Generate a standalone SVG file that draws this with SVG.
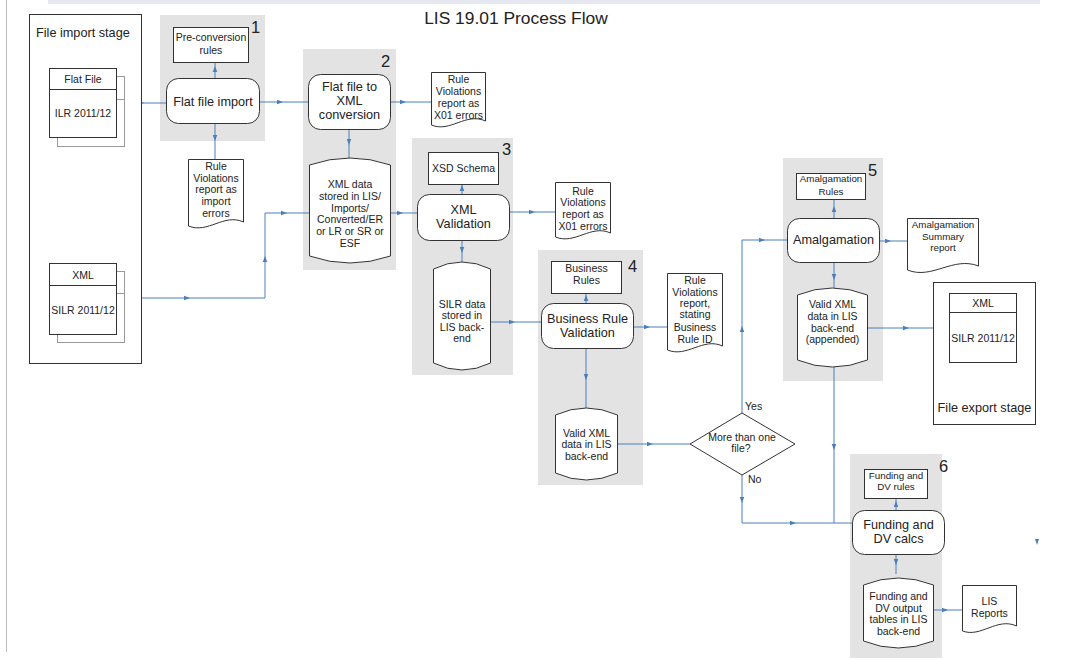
<svg xmlns="http://www.w3.org/2000/svg" width="1075" height="660" viewBox="0 0 1075 660">
<style>
.grp{fill:#e3e3e3}
.box{fill:#fff;stroke:#333;stroke-width:1}
.back{fill:#fff;stroke:#999;stroke-width:1}
.t{font-family:"Liberation Sans",Arial,sans-serif;fill:#222;text-anchor:middle}
.s{font-size:10.5px}
.xs{font-size:9.8px}
.m{font-size:12.7px}
.num{font-family:"Liberation Sans",Arial,sans-serif;fill:#222;font-size:16.5px}
.c{fill:none;stroke:#4a7ebb;stroke-width:1;marker-mid:url(#a)}
</style>
<defs>
<marker id="a" viewBox="0 0 8 8" refX="4" refY="4" markerWidth="6" markerHeight="6" markerUnits="userSpaceOnUse" orient="auto"><path d="M0,1 L8,4 L0,7 z" fill="#4a7ebb"/></marker>
</defs>
<rect width="1075" height="660" fill="#fff"/>
<rect x="48" y="0" width="992" height="4" fill="#e6e8f1"/>
<line x1="6.5" y1="0" x2="6.5" y2="652" stroke="#bbb" stroke-width="1"/>
<text class="t" x="516" y="24" style="font-size:17.4px">LIS 19.01 Process Flow</text>

<g id="stage1"><rect class="grp" x="160" y="15" width="105" height="126"/><text class="num" x="251" y="33">1</text></g>
<g id="stage2"><rect class="grp" x="303" y="49" width="93" height="221"/><text class="num" x="381" y="67">2</text></g>
<g id="stage3"><rect class="grp" x="412" y="138" width="101" height="237"/><text class="num" x="502" y="155">3</text></g>
<g id="stage4"><rect class="grp" x="538" y="250" width="105" height="235"/><text class="num" x="628" y="272">4</text></g>
<g id="stage5"><rect class="grp" x="783" y="158" width="100" height="223"/><text class="num" x="868" y="176">5</text></g>
<g id="stage6"><rect class="grp" x="850" y="454" width="92" height="204"/><text class="num" x="939" y="472">6</text></g>

<g id="connectors">
<path class="c" d="M116,103 L141,103 L166,103"/>
<path class="c" d="M215,78 L215,69 L215,62"/>
<path class="c" d="M215,123 L215,138 L215,159"/>
<path class="c" d="M259,102 L280,102 L308,102"/>
<path class="c" d="M349,129 L349,142 L349,160"/>
<path class="c" d="M390,102 L403,102 L431,102"/>
<path class="c" d="M116,298 L187,298 L265,298"/>
<path class="c" d="M265,298 L265,259 L265,213"/>
<path class="c" d="M265,213 L284,213 L309,213"/>
<path class="c" d="M390,213 L400,213 L417,213"/>
<path class="c" d="M462,194 L462,188 L462,184"/>
<path class="c" d="M509,212 L532,212 L555,212"/>
<path class="c" d="M462,240 L462,250 L462,266"/>
<path class="c" d="M490,322 L512,322 L541,322"/>
<path class="c" d="M586,303 L586,298 L586,293"/>
<path class="c" d="M633,327 L647,327 L667,327"/>
<path class="c" d="M586,348 L586,377 L586,410"/>
<path class="c" d="M617,444 L650,444 L690,444"/>
<path class="c" d="M742,413 L742,329 L742,240"/>
<path class="c" d="M742,240 L762,240 L787,240"/>
<path class="c" d="M742,475 L742,500 L742,523"/>
<path class="c" d="M742,523 L793,523 L852,523"/>
<path class="c" d="M834,218 L834,209 L834,199"/>
<path class="c" d="M879,241 L888,241 L907,241"/>
<path class="c" d="M834,262 L834,277 L834,290"/>
<path class="c" d="M867,328 L906,328 L949,328"/>
<path class="c" d="M834,367 L834,447 L834,523"/>
<path class="c" d="M896,510 L896,504 L896,498"/>
<path class="c" d="M896,554 L896,562 L896,574"/>
<path class="c" d="M933,610 L945,610 L962,610"/>
<path d="M1035,539 L1039,539 L1037,545 z" fill="#4a7ebb"/>
</g>

<g id="import-stage">
<rect class="box" x="29.5" y="14.5" width="112" height="349" fill="none"/>
<text class="t m" x="36" y="37" style="text-anchor:start">File import stage</text>
</g>
<g id="flat-file">
<rect class="back" x="57.5" y="76.5" width="67" height="70"/>
<line x1="116" y1="99.5" x2="124" y2="99.5" stroke="#999"/>
<rect class="box" x="49.5" y="68.5" width="67" height="69"/>
<line x1="49.5" y1="89.5" x2="116.5" y2="89.5" stroke="#333"/>
<text class="t s" x="83" y="83">Flat File</text>
<text class="t s" x="83" y="117">ILR 2011/12</text>
</g>
<g id="xml-input">
<rect class="back" x="57.5" y="271.5" width="67" height="71"/>
<line x1="116" y1="293.5" x2="124" y2="293.5" stroke="#999"/>
<rect class="box" x="49.5" y="263.5" width="67" height="71"/>
<line x1="49.5" y1="285.5" x2="116.5" y2="285.5" stroke="#333"/>
<text class="t s" x="83" y="278.5">XML</text>
<text class="t s" x="83" y="314">SILR 2011/12</text>
</g>

<g id="pre-conversion-rules">
<rect class="box" x="173.5" y="27.5" width="75" height="35"/>
<text class="t s" x="211" y="41">Pre-conversion</text>
<text class="t s" x="211" y="54">rules</text>
</g>
<g id="flat-file-import">
<rect class="box" x="166.5" y="78.5" width="93" height="45" rx="12"/>
<text class="t m" x="213" y="105.5">Flat file import</text>
</g>
<g id="import-errors">
<path class="box" d="M188.5,159.5 H243.5 V222 C224,213 208,234 188.5,226 Z"/>
<text class="t s" x="216" y="170">Rule</text>
<text class="t s" x="216" y="181.7">Violations</text>
<text class="t s" x="216" y="193.4">report as</text>
<text class="t s" x="216" y="205">import</text>
<text class="t s" x="216" y="216.7">errors</text>
</g>

<g id="flat-to-xml">
<rect class="box" x="308.5" y="74.5" width="82" height="55" rx="12"/>
<text class="t m" x="349.5" y="91">Flat file to</text>
<text class="t m" x="349.5" y="105">XML</text>
<text class="t m" x="349.5" y="119">conversion</text>
</g>
<g id="x01-errors-1">
<path class="box" d="M431.5,72.5 H485.5 V121 C466,112 450,133 431.5,125 Z"/>
<text class="t s" x="458.5" y="83">Rule</text>
<text class="t s" x="458.5" y="95">Violations</text>
<text class="t s" x="458.5" y="106.5">report as</text>
<text class="t s" x="458.5" y="118.5">X01 errors</text>
</g>
<g id="xml-data-store">
<path class="box" d="M309.5,165 Q350,151 390.5,165 V256 Q350,270 309.5,256 Z"/>
<text class="t s" x="350" y="188">XML data</text>
<text class="t s" x="350" y="200">stored in LIS/</text>
<text class="t s" x="350" y="211.5">Imports/</text>
<text class="t s" x="350" y="223">Converted/ER</text>
<text class="t s" x="350" y="235">or LR or SR or</text>
<text class="t s" x="350" y="246.5">ESF</text>
</g>

<g id="xsd-schema">
<rect class="box" x="428.5" y="152.5" width="70" height="32"/>
<text class="t s" x="463.5" y="171.5">XSD Schema</text>
</g>
<g id="xml-validation">
<rect class="box" x="417.5" y="194.5" width="92" height="46" rx="12"/>
<text class="t m" x="463.5" y="214">XML</text>
<text class="t m" x="463.5" y="227.5">Validation</text>
</g>
<g id="x01-errors-2">
<path class="box" d="M555.5,182.5 H610.5 V233 C591,224 575,245 555.5,237 Z"/>
<text class="t s" x="583" y="194.5">Rule</text>
<text class="t s" x="583" y="206">Violations</text>
<text class="t s" x="583" y="218">report as</text>
<text class="t s" x="583" y="230">X01 errors</text>
</g>
<g id="silr-data-store">
<path class="box" d="M433.5,269 Q462,255 490.5,269 V363 Q462,377 433.5,363 Z"/>
<text class="t s" x="462" y="307.5">SILR data</text>
<text class="t s" x="462" y="319">stored in</text>
<text class="t s" x="462" y="330.5">LIS back-</text>
<text class="t s" x="462" y="342">end</text>
</g>

<g id="business-rules">
<rect class="box" x="551.5" y="261.5" width="70" height="32"/>
<text class="t s" x="586.5" y="271.5">Business</text>
<text class="t s" x="586.5" y="283.5">Rules</text>
</g>
<g id="business-rule-validation">
<rect class="box" x="541.5" y="303.5" width="92" height="45" rx="12"/>
<text class="t m" x="587.5" y="322.5">Business Rule</text>
<text class="t m" x="587.5" y="336.5">Validation</text>
</g>
<g id="business-rule-report">
<path class="box" d="M667.5,273.5 H722.5 V346 C703,337 687,358 667.5,350 Z"/>
<text class="t s" x="695" y="283.5">Rule</text>
<text class="t s" x="695" y="295.5">Violations</text>
<text class="t s" x="695" y="306.5">report,</text>
<text class="t s" x="695" y="318">stating</text>
<text class="t s" x="695" y="330.5">Business</text>
<text class="t s" x="695" y="342.5">Rule ID</text>
</g>
<g id="valid-xml-store">
<path class="box" d="M555.5,415 Q586,401 617.5,415 V473 Q586,487 555.5,473 Z"/>
<text class="t s" x="586.5" y="436.5">Valid XML</text>
<text class="t s" x="586.5" y="448">data in LIS</text>
<text class="t s" x="586.5" y="459.5">back-end</text>
</g>

<g id="decision">
<path class="box" d="M690,444 L742,413 L795,444 L742,475 Z"/>
<text class="t s" x="742" y="441">More than one</text>
<text class="t s" x="741" y="452">file?</text>
<text class="t s" x="745" y="410" style="text-anchor:start">Yes</text>
<text class="t s" x="748" y="483" style="text-anchor:start">No</text>
</g>

<g id="amalgamation-rules">
<rect class="box" x="796.5" y="173.5" width="69" height="26"/>
<text class="t xs" x="831" y="182">Amalgamation</text>
<text class="t xs" x="831" y="194.5">Rules</text>
</g>
<g id="amalgamation">
<rect class="box" x="787.5" y="218.5" width="92" height="44" rx="12"/>
<text class="t m" x="833.5" y="244">Amalgamation</text>
</g>
<g id="amalgamation-report">
<path class="box" d="M907.5,218.5 H978.5 V266 C953,256 932,280 907.5,270 Z"/>
<text class="t xs" x="943" y="227.5">Amalgamation</text>
<text class="t xs" x="943" y="239.5">Summary</text>
<text class="t xs" x="943" y="251">report</text>
</g>
<g id="appended-store">
<path class="box" d="M797.5,295 Q832,281 867.5,295 V360 Q832,374 797.5,360 Z"/>
<text class="t s" x="832.5" y="308">Valid XML</text>
<text class="t s" x="832.5" y="320">data in LIS</text>
<text class="t s" x="832.5" y="331.5">back-end</text>
<text class="t s" x="832.5" y="343">(appended)</text>
</g>

<g id="export-stage">
<rect class="box" x="933.5" y="282.5" width="102" height="142" fill="none"/>
<rect class="box" x="949.5" y="293.5" width="67" height="69"/>
<line x1="949.5" y1="312.5" x2="1016.5" y2="312.5" stroke="#333"/>
<text class="t s" x="983" y="306.5">XML</text>
<text class="t s" x="983" y="341.5">SILR 2011/12</text>
<text class="t m" x="984.5" y="412">File export stage</text>
</g>

<g id="funding-rules">
<rect class="box" x="864.5" y="469.5" width="63" height="29"/>
<text class="t xs" x="896" y="478.5">Funding and</text>
<text class="t xs" x="896" y="490">DV rules</text>
</g>
<g id="funding-calcs">
<rect class="box" x="852.5" y="510.5" width="92" height="44" rx="12"/>
<text class="t m" x="898.5" y="528.5">Funding and</text>
<text class="t m" x="898.5" y="543">DV calcs</text>
</g>
<g id="funding-store">
<path class="box" d="M863.5,585 Q898,571 933.5,585 V641 Q898,655 863.5,641 Z"/>
<text class="t s" x="898.5" y="600">Funding and</text>
<text class="t s" x="898.5" y="611.5">DV output</text>
<text class="t s" x="898.5" y="623">tables in LIS</text>
<text class="t s" x="898.5" y="634.5">back-end</text>
</g>
<g id="lis-reports">
<path class="box" d="M962.5,585.5 H1016.5 V626 C997,617 981,638 962.5,631 Z"/>
<text class="t s" x="989.5" y="605">LIS</text>
<text class="t s" x="989.5" y="616.5">Reports</text>
</g>
</svg>
